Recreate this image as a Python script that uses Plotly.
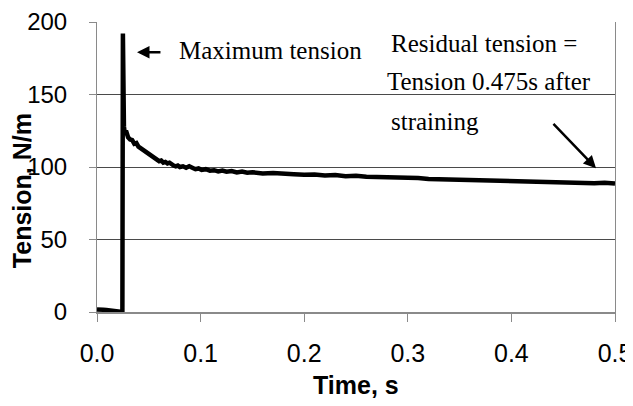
import plotly.graph_objects as go

# time (s) and tension (N/m)
time_s = [
    0.000, 0.003, 0.006, 0.009, 0.012, 0.015, 0.018, 0.021, 0.024, 0.0245,
    0.0250, 0.0252, 0.0255, 0.0260, 0.0265, 0.0270, 0.0280, 0.0290, 0.0300,
    0.032, 0.034, 0.036, 0.038, 0.040, 0.042, 0.044, 0.046, 0.048, 0.050,
    0.052, 0.054, 0.056, 0.058, 0.060, 0.062, 0.064, 0.066, 0.068, 0.070,
    0.072, 0.074, 0.076, 0.078, 0.080, 0.083, 0.086, 0.089, 0.092, 0.095,
    0.098, 0.101, 0.105, 0.109, 0.113, 0.117, 0.121, 0.125, 0.130, 0.135,
    0.140, 0.145, 0.150, 0.160, 0.170, 0.180, 0.190, 0.200, 0.210, 0.220,
    0.230, 0.240, 0.250, 0.260, 0.270, 0.280, 0.290, 0.300, 0.310, 0.320,
    0.330, 0.340, 0.350, 0.360, 0.370, 0.380, 0.390, 0.400, 0.410, 0.420,
    0.430, 0.440, 0.450, 0.460, 0.470, 0.480, 0.490, 0.500,
]
tension = [
    1.8, 2.0, 1.6, 1.4, 1.2, 1.0, 0.9, 0.6, 0.3, 0.0,
    192.0, 158.0, 140.0, 128.0, 125.0, 123.5, 125.0, 121.5, 120.5,
    119.0, 118.5, 116.0, 116.5, 114.0, 113.0, 112.5, 111.0, 110.5, 109.0,
    108.5, 107.0, 106.5, 105.0, 104.0, 104.5, 103.0, 103.5, 102.5, 103.0,
    101.5, 101.0, 100.5, 101.0, 100.0, 100.5, 99.5, 100.5, 99.5, 98.5,
    99.0, 98.0, 98.5, 97.5, 97.8, 97.0, 97.5, 96.8, 97.2, 96.3,
    96.8, 96.0, 96.4, 95.6, 95.9, 95.2, 95.0, 94.6, 94.9, 94.2,
    94.4, 93.7, 93.9, 93.2, 93.0, 93.3, 92.6, 92.2, 92.4, 91.7,
    91.5, 91.8, 91.1, 90.9, 90.6, 90.8, 90.2, 90.4, 89.9, 90.1,
    89.6, 89.8, 89.3, 89.5, 89.0, 88.8, 89.1, 88.6,
]

x_ticks = [0.0, 0.1, 0.2, 0.3, 0.4, 0.5]
y_ticks = [0, 50, 100, 150, 200]

AXIS_GREY = "#8a8a8a"
GRID_GREY = "#4a4a4a"
SERIF = "Liberation Serif, Times New Roman, serif"
SANS = "Liberation Sans, Arial, sans-serif"

fig = go.Figure()
fig.add_trace(go.Scatter(
    x=time_s, y=tension,
    mode="lines",
    line=dict(color="black", width=4.5),
    showlegend=False,
    hoverinfo="skip",
))

notes = [
    dict(x=0.0772, y=180.5, text="Maximum tension"),
    dict(x=0.2819, y=185.3, text="Residual tension ="),
    dict(x=0.2780, y=159.1, text="Tension 0.475s after"),
    dict(x=0.2819, y=131.5, text="straining"),
]
for n in notes:
    fig.add_annotation(
        x=n["x"], y=n["y"], text=n["text"], showarrow=False,
        xanchor="left", yanchor="middle",
        font=dict(family=SERIF, size=25, color="black"),
    )

# arrows
fig.add_annotation(x=0.0386, y=179.1, ax=0.0627, ay=179.1,
                   xref="x", yref="y", axref="x", ayref="y",
                   text="", showarrow=True, arrowhead=2, arrowsize=1,
                   arrowwidth=2.5, arrowcolor="black")
fig.add_annotation(x=0.4817, y=99.1, ax=0.4392, ay=130.8,
                   xref="x", yref="y", axref="x", ayref="y",
                   text="", showarrow=True, arrowhead=2, arrowsize=1,
                   arrowwidth=2.5, arrowcolor="black")

# axis titles placed where the original has them
fig.add_annotation(
    x=-0.1448, y=0.42, xref="paper", yref="paper",
    text="<b>Tension, N/m</b>", textangle=-90, showarrow=False,
    xanchor="center", yanchor="middle",
    font=dict(family=SANS, size=25, color="black"),
)
fig.add_annotation(
    x=0.5, y=-0.252, xref="paper", yref="paper",
    text="<b>Time, s</b>", showarrow=False,
    xanchor="center", yanchor="middle",
    font=dict(family=SANS, size=25, color="black"),
)

# page body adds an 8px offset, so the figure is 8px smaller than the window
fig.update_layout(
    width=625, height=398,
    paper_bgcolor="white", plot_bgcolor="white",
    margin=dict(l=89, r=18, t=14, b=94),
    xaxis=dict(
        range=[0, 0.5], tickvals=x_ticks, tickformat=".1f",
        ticks="outside", ticklen=8, tickcolor=AXIS_GREY, tickwidth=1,
        showline=True, linecolor=AXIS_GREY, linewidth=1.5,
        showgrid=False, zeroline=False, automargin=False,
        tickfont=dict(family=SANS, size=25, color="black"),
        ticklabelstandoff=10, ticklabeloverflow="allow",
    ),
    yaxis=dict(
        range=[0, 200], tickvals=y_ticks,
        ticks="outside", ticklen=7, tickcolor=AXIS_GREY, tickwidth=1,
        showline=True, linecolor=AXIS_GREY, linewidth=1, mirror=True,
        showgrid=True, gridcolor=GRID_GREY, gridwidth=1,
        zeroline=False, automargin=False,
        tickfont=dict(family=SANS, size=24, color="black"),
        ticklabelstandoff=17, ticklabeloverflow="allow",
    ),
)

fig.write_html("out.html")
